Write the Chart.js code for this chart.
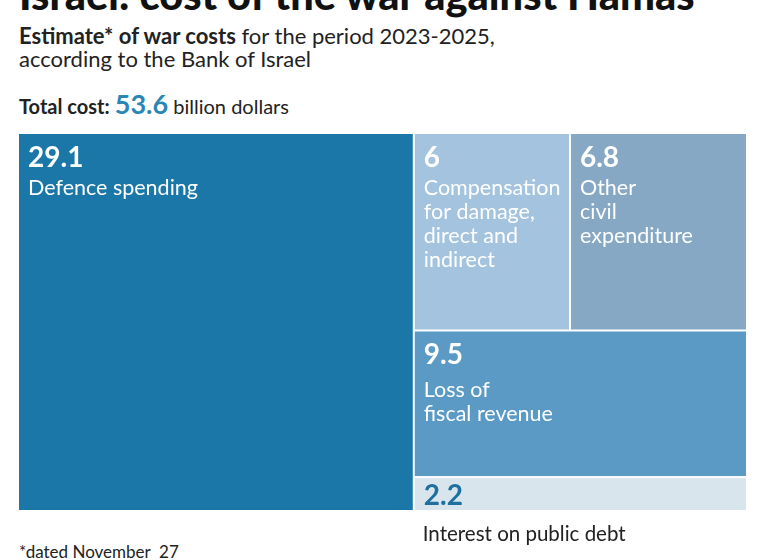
<!DOCTYPE html>
<html>
<head>
<meta charset="utf-8">
<script src="https://cdn.jsdelivr.net/npm/chart.js@4"></script>
<style>
  html, body { margin: 0; padding: 0; background: #fff; }
  body { width: 768px; height: 560px; position: relative; overflow: hidden; font-family: Lato, "Noto Sans", sans-serif; color: #222; }
  #chart { position: absolute; left: 0; top: 0; }
  .txt { position: absolute; left: 19px; white-space: nowrap; }
  #title { top: -31px; font-size: 41.5px; font-weight: 900; color: #111; }
  #sub { top: 24px; font-size: 22px; line-height: 23px; }
  #total { top: 87px; font-size: 20px; }
  #total .big { font-size: 27px; font-weight: bold; color: #2a86b5; }
  #note { top: 541px; font-size: 17px; }
</style>
</head>
<body>
<div class="txt" id="title"><b>Israel: cost of the war against Hamas</b></div>
<div class="txt" id="sub"><b>Estimate* of war costs</b> for the period 2023-2025,<br>according to the Bank of Israel</div>
<div class="txt" id="total"><b>Total cost:</b> <span class="big">53.6</span> billion dollars</div>
<div class="txt" id="note">*dated November&nbsp;&nbsp;27</div>
<canvas id="chart" width="768" height="560"></canvas>
<script>
// Data (billion dollars)
const categories = ['Defence spending', 'Compensation\nfor damage,\ndirect and\nindirect', 'Other\ncivil\nexpenditure', 'Loss of\nfiscal revenue', 'Interest on public debt'];
const values = [29.1, 6, 6.8, 9.5, 2.2];
const valueLabels = ['29.1', '6', '6.8', '9.5', '2.2'];
const colors = ['#1a77a8', '#a4c3df', '#86a8c4', '#5a9ac5', '#d9e5ec'];
const textColors = ['#fff', '#fff', '#fff', '#fff', '#1f6f9f'];
// nesting of the slice-and-dice layout (indices into values)
const tree = [0, [[1, 2], 3, 4]];

function sumNode(node) {
    return Array.isArray(node) ? node.reduce((s, n) => s + sumNode(n), 0) : values[node];
}

// lay out nodes in unit square, alternating horizontal / vertical splits
function layout(node, x0, y0, x1, y1, horiz, out) {
    if (!Array.isArray(node)) {
        out[node] = { x0, y0, x1, y1 };
        return out;
    }
    const total = sumNode(node);
    let pos = horiz ? x0 : y0;
    node.forEach(child => {
        const f = sumNode(child) / total;
        if (horiz) {
            const w = (x1 - x0) * f;
            layout(child, pos, y0, pos + w, y1, !horiz, out);
            pos += w;
        } else {
            const h = (y1 - y0) * f;
            layout(child, x0, pos, x1, pos + h, !horiz, out);
            pos += h;
        }
    });
    return out;
}

const cells = layout(tree, 0, 0, 1, 1, true, []);

const treemapPlugin = {
    id: 'treemap',
    afterDatasetsDraw(chart) {
        const ctx = chart.ctx;
        const xs = chart.scales.x, ys = chart.scales.y;
        ctx.save();
        cells.forEach((c, i) => {
            const left = xs.getPixelForValue(c.x0) + 1;
            const right = xs.getPixelForValue(c.x1) - 1;
            const top = ys.getPixelForValue(c.y0) + 1;
            const bottom = ys.getPixelForValue(c.y1) - 1;
            ctx.fillStyle = colors[i];
            ctx.fillRect(left, top, right - left, bottom - top);

            const small = bottom - top < 60;
            ctx.textBaseline = 'alphabetic';
            ctx.fillStyle = textColors[i];
            ctx.font = 'bold 28px Lato, "Noto Sans", sans-serif';
            ctx.fillText(valueLabels[i], left + 9, top + (small ? 27 : 33));

            const lines = categories[i].split('\n');
            if (small) {
                // small cell: label goes below
                ctx.font = '20.5px Lato, "Noto Sans", sans-serif';
                ctx.fillStyle = '#222';
                lines.forEach((l, k) => ctx.fillText(l, left + 8, bottom + 31 + k * 24));
            } else {
                ctx.font = '21.5px Lato, "Noto Sans", sans-serif';
                // the wide cell has a little more room under its value
                const gap = (right - left) > 300 && (bottom - top) < 200 ? 66 : 61;
                lines.forEach((l, k) => ctx.fillText(l, left + 9, top + gap + k * 24));
            }
        });
        ctx.restore();
    }
};

new Chart(document.getElementById('chart'), {
    type: 'scatter',
    data: {
        datasets: [{
            data: cells.map(c => ({ x: (c.x0 + c.x1) / 2, y: (c.y0 + c.y1) / 2 })),
            pointRadius: 0
        }]
    },
    options: {
        responsive: false,
        animation: false,
        layout: { padding: { left: 18, right: 21, top: 133, bottom: 49 } },
        scales: {
            x: { display: false, min: 0, max: 1 },
            y: { display: false, min: 0, max: 1, reverse: true }
        },
        plugins: { legend: { display: false }, tooltip: { enabled: false } }
    },
    plugins: [treemapPlugin]
});
</script>
</body>
</html>
